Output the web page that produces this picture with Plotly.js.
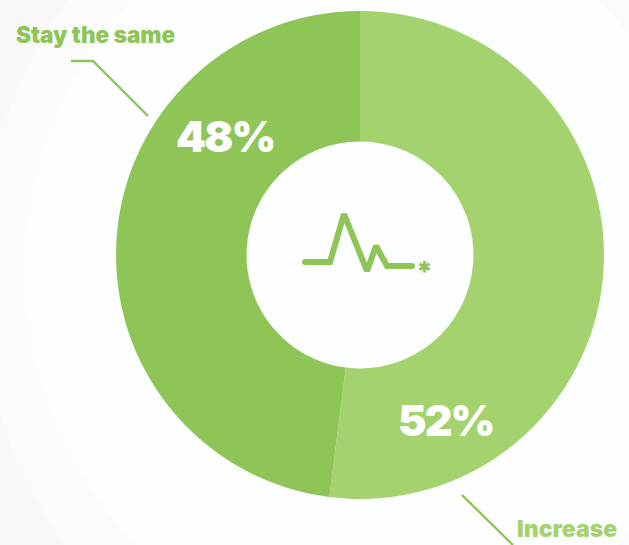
<!DOCTYPE html>
<html>
<head>
<meta charset="utf-8">
<script src="https://cdn.plot.ly/plotly-3.0.1.min.js"></script>
<style>
html,body{margin:0;padding:0;background:#fff}
#chart{width:629px;height:545px}
/* Rounded ends on the pulse glyph, the first line trace */
#chart .scatterlayer .trace:first-child .js-line{stroke-linecap:round !important}
</style>
</head>
<body>
<div id="chart"></div>
<script>
// Survey split, clockwise from twelve o'clock
const categories = ['Increase', 'Stay the same'];
const shares = [52, 48];
const sliceColors = ['#a4d26f', '#8ec556'];
const shareLabels = ['52%', '48%'];

// Pulse glyph in the hole and the two leader lines, in page pixels
const pulseX = [305, 330, 344, 367, 376, 387, 412];
const pulseY = [262, 262, 214, 271, 246, 266, 266];
const leaderTopX = [71, 93, 148];
const leaderTopY = [61, 61, 116];
const leaderBottomX = [462, 513];
const leaderBottomY = [495, 545];

const W = 629, H = 545;
const cx = 360, cy = 255, R = 244;
const labelFont = 'Inter, Lato, sans-serif';

// Soft backdrop discs behind the ring
function disc(x, y, r, color) {
  return {type: 'circle', layer: 'below', xref: 'x', yref: 'y',
    x0: x - r, x1: x + r, y0: y - r, y1: y + r,
    fillcolor: color, line: {width: 0}};
}
function corner(path) {
  return {type: 'path', layer: 'below', xref: 'x', yref: 'y', path: path,
    fillcolor: '#fafafa', line: {width: 0}};
}
function note(x, y, text, size, color) {
  return {x: x, y: y, xref: 'x', yref: 'y', text: text, showarrow: false,
    xanchor: 'center', yanchor: 'middle',
    font: {family: labelFont, size: size, color: color, weight: 900}};
}
function tight(text) {
  return '<span style="letter-spacing:-2px">' + text + '</span>';
}

const traces = [
  {type: 'pie', values: shares, labels: categories, sort: false, direction: 'clockwise',
   rotation: 0, hole: 0.465, textinfo: 'none', showlegend: false, hoverinfo: 'label+percent',
   marker: {colors: sliceColors, line: {width: 0}},
   domain: {x: [(cx - R) / W, (cx + R) / W], y: [1 - (cy + R) / H, 1 - (cy - R) / H]}},
  {type: 'scatter', mode: 'lines', x: pulseX, y: pulseY, hoverinfo: 'skip', showlegend: false,
   line: {color: '#8ec556', width: 6, shape: 'linear'}},
  {type: 'scatter', mode: 'lines', x: leaderTopX, y: leaderTopY, hoverinfo: 'skip', showlegend: false,
   line: {color: '#8ec556', width: 2.4}},
  {type: 'scatter', mode: 'lines', x: leaderBottomX, y: leaderBottomY, hoverinfo: 'skip', showlegend: false,
   line: {color: '#8ec556', width: 2.4}}
];

const layout = {
  width: W, height: H, margin: {l: 0, r: 0, t: 0, b: 0},
  paper_bgcolor: '#f8f8f8', plot_bgcolor: 'rgba(0,0,0,0)', showlegend: false,
  xaxis: {range: [0, W], visible: false, fixedrange: true},
  yaxis: {range: [H, 0], visible: false, fixedrange: true},
  shapes: [
    disc(442, 275, 464, '#fbfbfb'),
    disc(420, 270, 395, '#fdfefe'),
    corner('M597,0 Q614,16 629,35 L629,0 Z'),
    corner('M617,545 Q623,540 629,534 L629,545 Z')
  ],
  annotations: [
    note(95, 34, 'Stay the same', 22.5, '#8ec556'),
    note(566.5, 529, 'Increase', 23, '#a4d26f'),
    note(225, 136, tight(shareLabels[1]), 43, '#ffffff'),
    note(445.5, 420, tight(shareLabels[0]), 43, '#ffffff'),
    note(424, 272, '*', 28, '#8ec556')
  ]
};

Plotly.newPlot('chart', traces, layout, {displayModeBar: false, staticPlot: true});
</script>
</body>
</html>
